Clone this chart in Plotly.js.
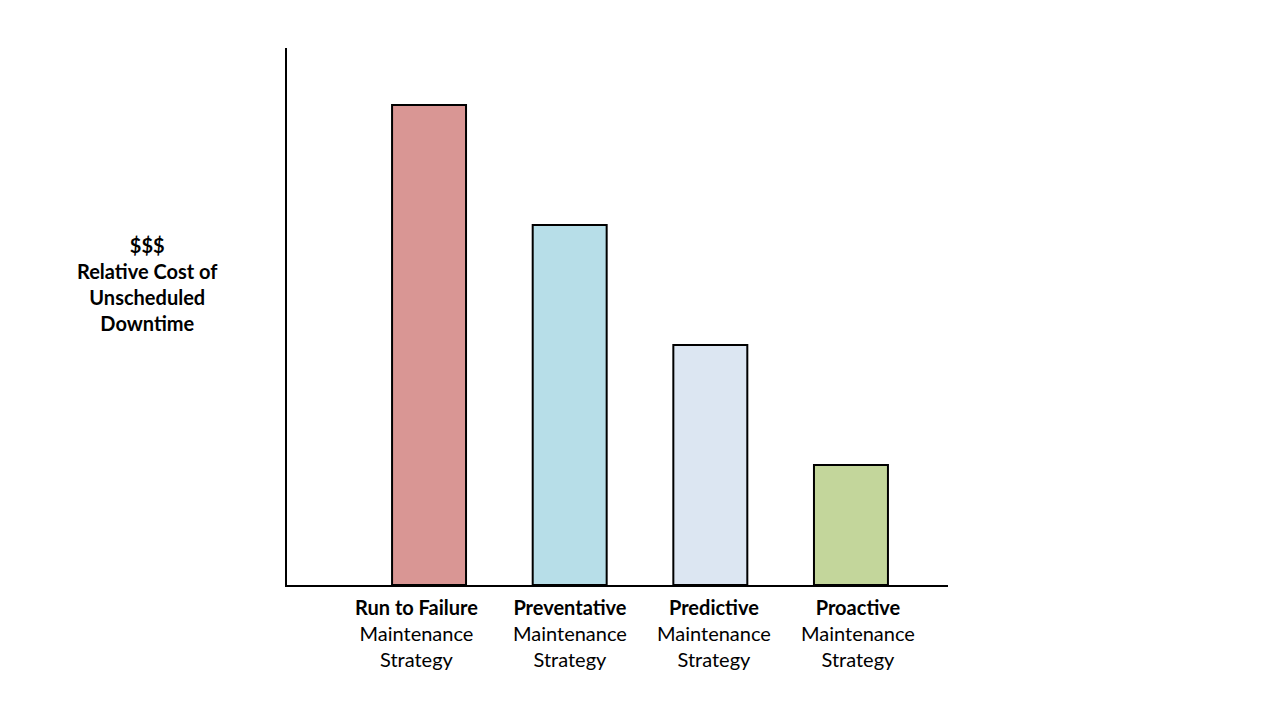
<!DOCTYPE html>
<html>
<head>
<meta charset="utf-8">
<script src="https://cdn.plot.ly/plotly-3.0.1.min.js"></script>
<style>
  html, body { margin: 0; padding: 0; background: #fff; }
  #chart { width: 1280px; height: 720px; }
</style>
</head>
<body>
<div id="chart"></div>
<script>
var strategies = ["Run to Failure", "Preventative", "Predictive", "Proactive"];
var relativeCost = [4, 3, 2, 1];
var barColors = ["#D99694", "#B7DEE8", "#DCE6F2", "#C3D69B"];
var labelShift = [-13, 0, 4, 7];

var trace = {
    x: strategies,
    y: relativeCost,
    type: "bar",
    width: 0.526,
    marker: {
        color: barColors,
        line: { color: "#000", width: 2 }
    },
    hoverinfo: "skip"
};

// category labels under the bars, set as text boxes
var labelNotes = strategies.map((s, i) => ({
    xref: "x",
    yref: "paper",
    x: s,
    y: 0,
    xshift: labelShift[i],
    yshift: -8,
    xanchor: "center",
    yanchor: "top",
    showarrow: false,
    align: "center",
    text: "<b>" + s + "</b><br>Maintenance<br>Strategy",
    font: { size: 20 }
}));

var layout = {
    width: 1280,
    height: 720,
    margin: { l: 287, r: 332, t: 48, b: 135 },
    paper_bgcolor: "#fff",
    plot_bgcolor: "#fff",
    showlegend: false,
    font: { family: "Lato, 'Open Sans', sans-serif", size: 20, color: "#000" },
    xaxis: {
        type: "category",
        range: [-1.01, 3.69],
        showticklabels: false,
        ticks: "",
        showgrid: false,
        zeroline: false,
        showline: true,
        linecolor: "#000",
        linewidth: 2
    },
    yaxis: {
        range: [0, 4.475],
        showticklabels: false,
        ticks: "",
        showgrid: false,
        zeroline: false,
        showline: true,
        linecolor: "#000",
        linewidth: 2
    },
    annotations: labelNotes.concat([{
        xref: "paper",
        yref: "paper",
        x: -0.2103,
        y: 0.5596,
        xanchor: "center",
        yanchor: "middle",
        showarrow: false,
        align: "center",
        text: "<b>$$$<br>Relative Cost of<br>Unscheduled<br>Downtime</b>",
        font: { size: 20 }
    }])
};

Plotly.newPlot("chart", [trace], layout, { displayModeBar: false, staticPlot: true });
</script>
</body>
</html>
